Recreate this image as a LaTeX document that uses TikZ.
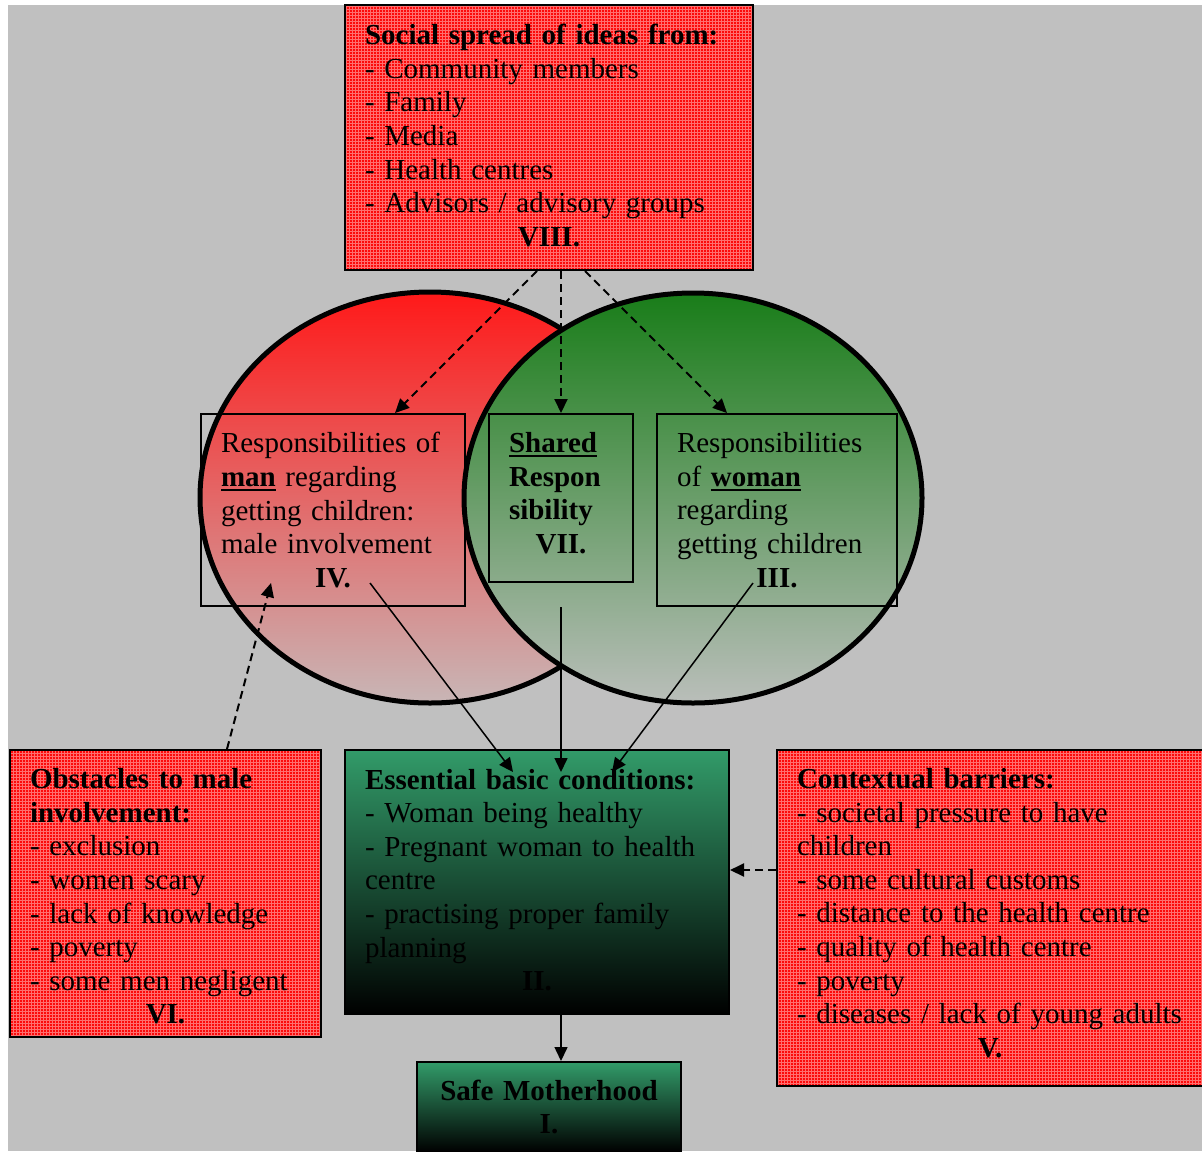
\documentclass[tikz,border=0pt]{standalone}
\usepackage{fontspec}
\setmainfont{Liberation Serif}
\usetikzlibrary{arrows.meta,calc,patterns}

% fine light grid laid over the red boxes
\pgfdeclarepatternformonly{cellgrid}{\pgfpoint{-0.1pt}{-0.1pt}}{\pgfpoint{1.6pt}{1.6pt}}{\pgfpoint{1.5pt}{1.5pt}}{%
  \pgfsetlinewidth{0.35pt}%
  \pgfpathmoveto{\pgfpoint{0pt}{0.75pt}}\pgfpathlineto{\pgfpoint{1.5pt}{0.75pt}}%
  \pgfpathmoveto{\pgfpoint{0.75pt}{0pt}}\pgfpathlineto{\pgfpoint{0.75pt}{1.5pt}}%
  \pgfusepath{stroke}}

% stack of lines set as one block
\newcommand{\boxtext}[1]{\noindent\vbox{#1}}
% one left-aligned line of a box (never wrapped)
\newcommand{\tline}[1]{\hbox to\hsize{#1\hss}}
% one centred line of a box
\newcommand{\midline}[1]{\hbox to\hsize{\hss#1\hss}}
% centred bold numeral closing a box
\newcommand{\romline}[1]{\midline{\textbf{#1}}}
% bold word with a heavy underline
\newcommand{\ulb}[1]{\setbox0\hbox{\textbf{#1}}\rlap{\rule[-2.5pt]{\wd0}{1.1pt}}\box0\relax}

\definecolor{bggrey}{RGB}{192,192,192}
\definecolor{boxred}{RGB}{252,10,10}
\definecolor{gridred}{RGB}{255,110,110}
\definecolor{boxgreen}{RGB}{50,155,105}
\definecolor{ovalred}{RGB}{255,25,25}
\definecolor{ovalredlow}{RGB}{200,182,182}
\definecolor{ovalgreen}{RGB}{25,125,25}
\definecolor{ovalgreenlow}{RGB}{186,190,186}

\tikzset{
  txt/.style={font=\fontsize{14.5}{16.8}\selectfont, align=left, inner xsep=10pt, inner ysep=0pt},
  redbox/.style={txt, draw=black, line width=1pt, preaction={fill=boxred},
                 pattern=cellgrid, pattern color=gridred},
  greenbox/.style={txt, draw=black, line width=1pt, top color=boxgreen, bottom color=black},
  framebox/.style={txt, draw=black, line width=1pt},
  tip/.style={-{Triangle[length=7pt,width=6.5pt]}},
  solidlink/.style={tip, line width=0.75pt},
  dashlink/.style={tip, line width=1pt, dash pattern=on 4pt off 2.5pt},
  oval/.style={line width=2.5pt, draw=black},
}

\begin{document}
\begin{tikzpicture}[x=0.5pt,y=-0.5pt]
\useasboundingbox (0,0) rectangle (1202,1151);
\clip (0,0) rectangle (1202,1151);

% page background
\fill[bggrey] (8,5) rectangle (1202,1151);

% the two overlapping ovals: man (red) and woman (green)
\path[oval, top color=ovalred, bottom color=ovalredlow]
  (430,497.5) ellipse [x radius=115pt, y radius=102.75pt];
\path[oval, top color=ovalgreen, bottom color=ovalgreenlow]
  (693,498) ellipse [x radius=114.5pt, y radius=102.5pt];

% social spread of ideas
\node[redbox, text width=184pt, minimum width=204pt, minimum height=132.5pt] (VIII) at (549,137.5)
  {\boxtext{\tline{\textbf{Social spread of ideas from:}}\tline{- Community members}\tline{- Family}%
   \tline{- Media}\tline{- Health centres}\tline{- Advisors / advisory groups}\romline{VIII.}\vskip2pt}};

% responsibilities inside the ovals
\node[framebox, text width=112pt, minimum width=132pt, minimum height=96pt] (IV) at (333,510)
  {\boxtext{\tline{Responsibilities of}\tline{\ulb{man} regarding}\tline{getting children:}%
   \tline{male involvement}\romline{IV.}}};
\node[framebox, text width=52pt, minimum width=72pt, minimum height=84pt] (VII) at (561,498)
  {\boxtext{\tline{\ulb{Shared}}\tline{\textbf{Respon}}\tline{\textbf{sibility}}\romline{VII.}\vskip5pt}};
\node[framebox, text width=100pt, minimum width=120pt, minimum height=96pt] (III) at (777,510)
  {\boxtext{\tline{Responsibilities}\tline{of \ulb{woman}}\tline{regarding}\tline{getting children}\romline{III.}}};

% lower row
\node[redbox, text width=135.5pt, minimum width=155.5pt, minimum height=143.5pt] (VI) at (165.5,893.5)
  {\boxtext{\vskip3pt\tline{\textbf{Obstacles to male}}\tline{\textbf{involvement:}}\tline{- exclusion}%
   \tline{- women scary}\tline{- lack of knowledge}\tline{- poverty}\tline{- some men negligent}\romline{VI.}}};
\node[greenbox, text width=172pt, minimum width=192pt, minimum height=132pt] (II) at (537,882)
  {\boxtext{\tline{\textbf{Essential basic conditions:}}\tline{- Woman being healthy}%
   \tline{- Pregnant woman to health}\tline{centre}\tline{- practising proper family}%
   \tline{planning}\romline{II.}\vskip2pt}};
\node[redbox, text width=193pt, minimum width=213pt, minimum height=168pt] (V) at (990,918)
  {\boxtext{\tline{\textbf{Contextual barriers:}}\tline{- societal pressure to have}\tline{children}%
   \tline{- some cultural customs}\tline{- distance to the health centre}%
   \tline{- quality of health centre}\tline{- poverty}\tline{- diseases / lack of young adults}\romline{V.}\vskip5pt}};
\node[greenbox, text width=112pt, minimum width=132pt, minimum height=45pt] (I) at (549,1107)
  {\boxtext{\midline{\textbf{Safe Motherhood}}\romline{I.}}};

% connector end points
\coordinate (viiiA) at ($(VIII.south)+(-12,0)$);
\coordinate (viiiB) at ($(VIII.south)+(12,0)$);
\coordinate (viiiC) at ($(VIII.south)+(36,0)$);
\coordinate (ivTop) at ($(IV.north)+(62,0)$);
\coordinate (iiiTop) at ($(III.north)+(-50,0)$);
\coordinate (viTop) at ($(VI.north)+(61.5,0)$);
\coordinate (ivIn) at ($(IV.south)+(-62,-24)$);
\coordinate (ivOut) at ($(IV.south)+(37,-24)$);
\coordinate (viiOut) at ($(VII.south)+(0,24)$);
\coordinate (iiiOut) at ($(III.south)+(-24,-24)$);
\coordinate (iiA) at ($(II.north)+(-24,23)$);
\coordinate (iiB) at ($(II.north)+(24,23)$);
\coordinate (iiC) at ($(II.north)+(75,23)$);
\coordinate (vOut) at ($(V.west)+(0,-48)$);
\coordinate (iiIn) at ($(II.east)+(0,-12)$);
\coordinate (iiOut) at ($(II.south)+(24,0)$);
\coordinate (iIn) at ($(I.north)+(12,0)$);

% influences (dashed)
\draw[dashlink] (viiiA) -- (ivTop);
\draw[dashlink] (viiiB) -- (VII.north);
\draw[dashlink] (viiiC) -- (iiiTop);
\draw[dashlink] (viTop) -- (ivIn);
\draw[dashlink] (vOut) -- (iiIn);

% contributions (solid)
\draw[solidlink] (ivOut) -- (iiA);
\draw[solidlink] (viiOut) -- (iiB);
\draw[solidlink] (iiiOut) -- (iiC);
\draw[solidlink] (iiOut) -- (iIn);
\end{tikzpicture}
\end{document}
